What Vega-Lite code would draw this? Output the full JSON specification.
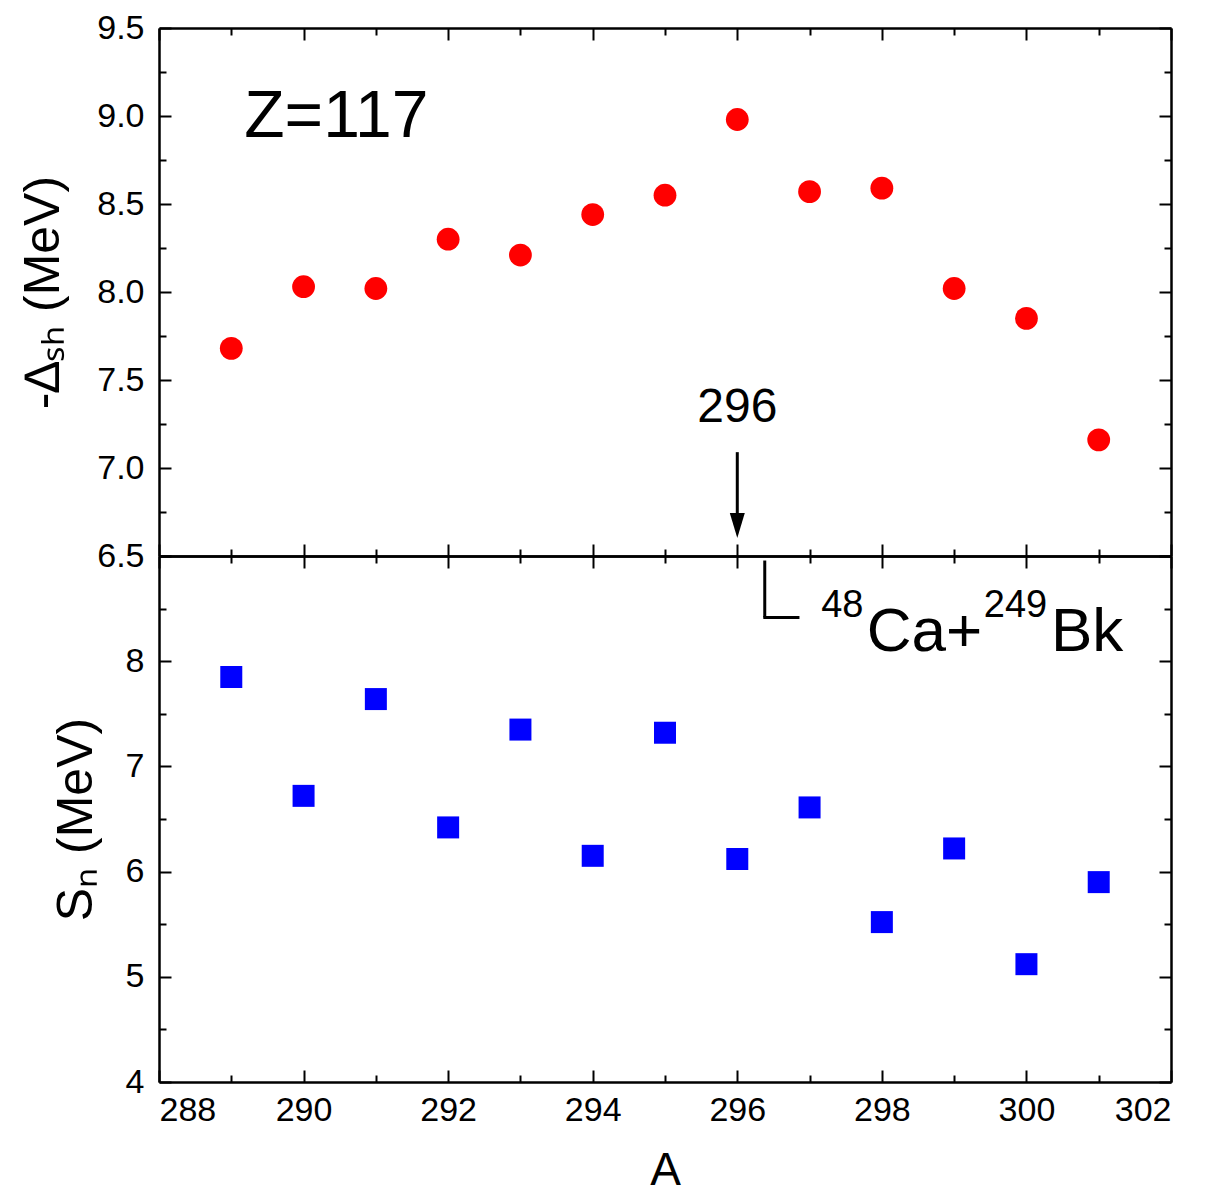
{
  "$schema": "https://vega.github.io/schema/vega-lite/v6.json",
  "background": "white",
  "padding": {"left": 18, "top": 11, "right": 5, "bottom": 0},
  "spacing": 0,
  "bounds": "flush",
  "config": {
    "font": "Liberation Sans",
    "view": {"stroke": null},
    "axis": {
      "domainColor": "black", "domainWidth": 2.5, "tickColor": "black", "tickWidth": 2,
      "labelColor": "black", "labelFontSize": 34, "labelFont": "Liberation Sans",
      "titleColor": "black", "titleFont": "Liberation Sans", "titleFontWeight": "normal", "grid": false
    }
  },
  "datasets": {
    "top": [
      {"A": 289, "v": 7.68}, {"A": 290, "v": 8.03}, {"A": 291, "v": 8.02}, {"A": 292, "v": 8.30},
      {"A": 293, "v": 8.21}, {"A": 294, "v": 8.44}, {"A": 295, "v": 8.55}, {"A": 296, "v": 8.98},
      {"A": 297, "v": 8.57}, {"A": 298, "v": 8.59}, {"A": 299, "v": 8.02}, {"A": 300, "v": 7.85},
      {"A": 301, "v": 7.16}
    ],
    "bottom": [
      {"A": 289, "v": 7.85}, {"A": 290, "v": 6.72}, {"A": 291, "v": 7.64}, {"A": 292, "v": 6.42},
      {"A": 293, "v": 7.35}, {"A": 294, "v": 6.15}, {"A": 295, "v": 7.32}, {"A": 296, "v": 6.12},
      {"A": 297, "v": 6.61}, {"A": 298, "v": 5.52}, {"A": 299, "v": 6.22}, {"A": 300, "v": 5.12},
      {"A": 301, "v": 5.90}
    ]
  },
  "vconcat": [
    {
      "width": 1012,
      "height": 528,
      "resolve": {"axis": {"x": "independent", "y": "independent"}},
      "layer": [
        {
          "data": {"name": "top"},
          "mark": {"type": "point", "shape": "circle", "filled": true, "opacity": 1, "size": 520, "color": "#FF0000"},
          "encoding": {
            "x": {"field": "A", "type": "quantitative", "scale": {"domain": [288, 302], "nice": false, "zero": false},
              "axis": {"orient": "bottom", "title": null, "labels": false,
                "values": [288,289,290,291,292,293,294,295,296,297,298,299,300,301,302],
                "tickSize": {"condition": {"test": "datum.value % 2 === 0", "value": -12}, "value": -7}}},
            "y": {"field": "v", "type": "quantitative", "scale": {"domain": [6.5, 9.5], "nice": false, "zero": false},
              "axis": {"orient": "left", "title": "-∆ₛₕ (MeV)", "titleFontSize": 50, "titlePadding": 28,
                "values": [6.5,6.75,7,7.25,7.5,7.75,8,8.25,8.5,8.75,9,9.25,9.5],
                "labelExpr": "datum.value % 0.5 === 0 ? format(datum.value, '.1f') : ''",
                "labelPadding": 27,
                "tickSize": {"condition": {"test": "datum.value % 0.5 === 0", "value": -12}, "value": -7}}}
          }
        },
        {
          "data": {"name": "top"},
          "mark": {"type": "point", "opacity": 0},
          "encoding": {
            "x": {"field": "A", "type": "quantitative",
              "axis": {"orient": "top", "title": null, "labels": false,
                "values": [288,289,290,291,292,293,294,295,296,297,298,299,300,301,302],
                "tickSize": {"condition": {"test": "datum.value % 2 === 0", "value": -12}, "value": -7}}},
            "y": {"field": "v", "type": "quantitative",
              "axis": {"orient": "right", "title": null, "labels": false,
                "values": [6.5,6.75,7,7.25,7.5,7.75,8,8.25,8.5,8.75,9,9.25,9.5],
                "tickSize": {"condition": {"test": "datum.value % 0.5 === 0", "value": -12}, "value": -7}}}
          }
        },
        {
          "data": {"values": [{"A": 289.18, "v": 8.88, "t": "Z=117"}]},
          "mark": {"type": "text", "align": "left", "baseline": "alphabetic", "fontSize": 66, "color": "black"},
          "encoding": {
            "x": {"field": "A", "type": "quantitative", "axis": null},
            "y": {"field": "v", "type": "quantitative", "axis": null},
            "text": {"field": "t"}
          }
        },
        {
          "data": {"values": [{"A": 296, "v": 7.26, "t": "296"}]},
          "mark": {"type": "text", "align": "center", "baseline": "alphabetic", "fontSize": 48, "color": "black"},
          "encoding": {
            "x": {"field": "A", "type": "quantitative", "axis": null},
            "y": {"field": "v", "type": "quantitative", "axis": null},
            "text": {"field": "t"}
          }
        },
        {
          "data": {"values": [{"A": 296, "v": 7.09, "v2": 6.73}]},
          "mark": {"type": "rule", "strokeWidth": 3, "color": "black"},
          "encoding": {
            "x": {"field": "A", "type": "quantitative", "axis": null},
            "y": {"field": "v", "type": "quantitative", "axis": null},
            "y2": {"field": "v2"}
          }
        },
        {
          "data": {"values": [{"A": 296, "v": 6.673}]},
          "mark": {"type": "point", "shape": "M-0.6,-1L0.6,-1L0,1Z", "filled": true, "opacity": 1, "size": 625, "color": "black"},
          "encoding": {
            "x": {"field": "A", "type": "quantitative", "axis": null},
            "y": {"field": "v", "type": "quantitative", "axis": null}
          }
        }
      ]
    },
    {
      "width": 1012,
      "height": 526,
      "resolve": {"axis": {"x": "independent", "y": "independent"}},
      "layer": [
        {
          "data": {"name": "bottom"},
          "mark": {"type": "point", "shape": "square", "filled": true, "opacity": 1, "size": 484, "color": "#0000FF"},
          "encoding": {
            "x": {"field": "A", "type": "quantitative", "scale": {"domain": [288, 302], "nice": false, "zero": false},
              "axis": {"orient": "bottom", "title": "A", "titleFontSize": 46, "titlePadding": 21,
                "values": [288,289,290,291,292,293,294,295,296,297,298,299,300,301,302],
                "labelExpr": "datum.value % 2 === 0 ? format(datum.value, 'd') : ''",
                "labelPadding": 23,
                "tickSize": {"condition": {"test": "datum.value % 2 === 0", "value": -12}, "value": -7}}},
            "y": {"field": "v", "type": "quantitative", "scale": {"domain": [4, 9], "nice": false, "zero": false},
              "axis": {"orient": "left", "title": "Sₙ (MeV)", "titleFontSize": 50, "titlePadding": 24,
                "values": [4,4.5,5,5.5,6,6.5,7,7.5,8,8.5,9],
                "labelExpr": "datum.value % 1 === 0 && datum.value < 9 ? format(datum.value, 'd') : ''",
                "labelPadding": 27,
                "tickSize": {"condition": {"test": "datum.value % 1 === 0", "value": -12}, "value": -7}}}
          }
        },
        {
          "data": {"name": "bottom"},
          "mark": {"type": "point", "opacity": 0},
          "encoding": {
            "x": {"field": "A", "type": "quantitative",
              "axis": {"orient": "top", "title": null, "labels": false,
                "values": [288,289,290,291,292,293,294,295,296,297,298,299,300,301,302],
                "tickSize": {"condition": {"test": "datum.value % 2 === 0", "value": -12}, "value": -7}}},
            "y": {"field": "v", "type": "quantitative",
              "axis": {"orient": "right", "title": null, "labels": false,
                "values": [4,4.5,5,5.5,6,6.5,7,7.5,8,8.5,9],
                "tickSize": {"condition": {"test": "datum.value % 1 === 0", "value": -12}, "value": -7}}}
          }
        },
        {
          "data": {"values": [{"A": 296.38, "v": 8.957, "v2": 8.416}]},
          "mark": {"type": "rule", "strokeWidth": 3, "color": "black"},
          "encoding": {
            "x": {"field": "A", "type": "quantitative", "axis": null},
            "y": {"field": "v", "type": "quantitative", "axis": null},
            "y2": {"field": "v2"}
          }
        },
        {
          "data": {"values": [{"A": 296.36, "A2": 296.86, "v": 8.416}]},
          "mark": {"type": "rule", "strokeWidth": 3, "color": "black"},
          "encoding": {
            "x": {"field": "A", "type": "quantitative", "axis": null},
            "x2": {"field": "A2"},
            "y": {"field": "v", "type": "quantitative", "axis": null}
          }
        },
        {
          "data": {"values": [{"A": 297.16, "v": 8.416, "t": "48"}, {"A": 299.41, "v": 8.416, "t": "249"}]},
          "mark": {"type": "text", "align": "left", "baseline": "alphabetic", "fontSize": 38, "color": "black"},
          "encoding": {
            "x": {"field": "A", "type": "quantitative", "axis": null},
            "y": {"field": "v", "type": "quantitative", "axis": null},
            "text": {"field": "t"}
          }
        },
        {
          "data": {"values": [{"A": 297.79, "v": 8.10, "t": "Ca+"}, {"A": 300.34, "v": 8.10, "t": "Bk"}]},
          "mark": {"type": "text", "align": "left", "baseline": "alphabetic", "fontSize": 62, "color": "black"},
          "encoding": {
            "x": {"field": "A", "type": "quantitative", "axis": null},
            "y": {"field": "v", "type": "quantitative", "axis": null},
            "text": {"field": "t"}
          }
        }
      ]
    }
  ]
}
